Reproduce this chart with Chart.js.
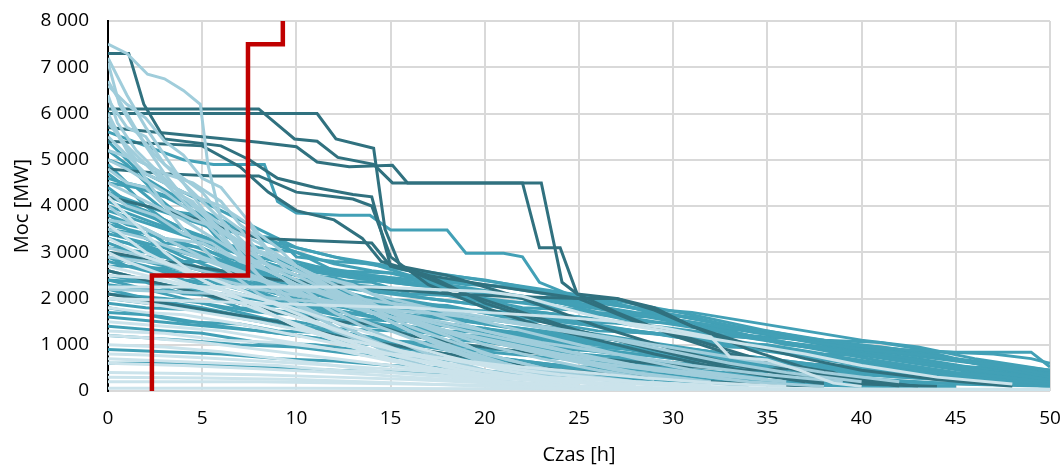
<!DOCTYPE html>
<html>
<head>
<meta charset="utf-8">
<script src="https://cdn.jsdelivr.net/npm/chart.js@4/dist/chart.umd.min.js"></script>
<style>
  html, body { margin: 0; padding: 0; background: #fff; overflow: hidden; }
  canvas { display: block; }
</style>
</head>
<body>
<canvas id="myChart" width="1061" height="465"></canvas>
<script>
// each series: flat list of hour, MW pairs
const yTickLabels = ['0', '1 000', '2 000', '3 000', '4 000', '5 000', '6 000', '7 000', '8 000'];

const darkSeries = [
    [0,7300, 1.1,7300, 1.9,6200, 3,5450, 6,5300, 7.5,5000, 9,4600, 11,4400, 13,4250, 14,4200, 15,2700, 17,2500, 20,2300, 25,2000, 28,1500, 32,1000, 36,500, 40,150],
    [0,6100, 8,6100, 9.9,5450, 11.1,5400, 12.2,5050, 14.1,4900, 15.1,4500, 22,4500, 22.9,3100, 24,3100, 24.9,2100, 27,2000, 29,1800, 31,1400, 34,900, 37,500, 40,250, 43,100],
    [0,6000, 11.1,6000, 12.1,5450, 14.1,5250, 14.7,3500, 15.5,2700, 18,2500, 22,2000, 26,1400, 30,900, 34,500, 38,200],
    [0,5700, 8,5380, 10,5280, 11.1,4950, 12.8,4850, 15.1,4880, 15.9,4500, 23,4500, 24.1,2350, 24.9,2100, 27,1700, 30,1200, 33,800, 36,500, 39,300, 42,100],
    [0,5400, 5,5300, 7,4850, 8.5,4300, 10,3900, 12,3700, 13.5,3300, 14.5,2800, 17,2500, 20,1900, 23,1500, 26,1200, 30,800, 34,400, 38,150],
    [0,4800, 3,4700, 5.6,4650, 8,4650, 10,4300, 13,4150, 14,4000, 15,2900, 17,2300, 20,1800, 23,1400, 26,1100, 29,800, 33,450, 37,200],
    [0,4200, 4,3800, 8,3300, 11,3250, 14,3200, 15,2700, 16,2600, 19,2100, 22,1700, 25,1300, 28,1000, 31,700, 35,450, 39,250, 43,100],
    [0,3000, 3,2800, 6,2600, 9,2400, 12,2300, 15,2200, 18,2100, 21,2050, 25,2000, 27,2000, 29,1750, 31,1400, 34,1000, 37,700, 40,450, 44,250, 48,100],
    [0,2600, 3,2300, 6,2000, 9,1700, 12,1500, 14,1450, 16,1200, 19,1000, 22,850, 26,700, 30,550, 34,450, 37,500, 38.5,400, 40,150, 44,100],
    [0,2100, 3,1900, 6,1700, 9,1500, 12,1200, 15,1000, 18,800, 21,600, 24,450, 27,350, 30,250, 34,150, 38,100]
];

const tealSeries = [
    [0,5000, 2,4700, 4,4300, 6,3900, 8,3500, 10,3100, 13,2800, 16,2600, 20,2400, 24,2100, 28,1800, 32,1500, 36,1150, 40,900, 44,750, 48,500, 50,350],
    [0,4600, 3,4200, 6,3600, 9,3200, 12,2900, 15,2700, 19,2450, 23,2200, 27,1950, 31,1650, 35,1300, 39,1000, 42,900, 44.9,840, 49,840, 50,520],
    [0,4300, 2,4000, 5,3600, 8,3000, 11,2700, 14,2500, 18,2300, 22,2050, 26,1800, 30,1550, 34,1300, 38,1100, 42,900, 46,600, 50,300],
    [0,3900, 3,3500, 6,3100, 9,2700, 12,2500, 16,2300, 20,2100, 24,1900, 28,1650, 32,1350, 36,1050, 40,800, 44,550, 48,350, 50,250],
    [0,3600, 4,3200, 7,2800, 10,2500, 13,2300, 17,2150, 21,1950, 25,1750, 29,1500, 33,1250, 37,950, 41,650, 45,400, 50,200],
    [0,3400, 3,3100, 6,2750, 9,2450, 13,2200, 17,2000, 21,1800, 25,1600, 29,1350, 33,1100, 37,850, 41,600, 45,350, 50,150],
    [0,3200, 2,2900, 5,2600, 8,2300, 12,2050, 16,1850, 20,1700, 24,1500, 28,1300, 32,1050, 36,800, 40,550, 44,350, 48,200, 50,150],
    [0,4000, 2,3700, 4,3400, 6,3000, 8,2600, 10,2300, 13,2000, 16,1750, 20,1550, 24,1350, 28,1100, 32,850, 36,600, 40,400, 45,250, 50,120],
    [0,3000, 3,2700, 6,2400, 9,2150, 12,1900, 15,1700, 19,1500, 23,1300, 27,1100, 31,900, 35,700, 39,500, 43,300, 47,180, 50,100],
    [0,2800, 2,2600, 5,2300, 8,2000, 11,1800, 14,1600, 18,1450, 22,1250, 26,1050, 30,850, 34,650, 38,450, 42,300, 46,200, 50,100],
    [0,4400, 1,4100, 3,3600, 5,3200, 7,2800, 9,2500, 11,2200, 14,1900, 17,1650, 20,1450, 24,1200, 28,950, 32,700, 36,450, 40,250, 44,120],
    [0,3800, 2,3500, 4,3100, 7,2700, 10,2400, 13,2250, 16,2200, 19,2000, 22,1700, 25,1500, 28,1300, 31,1150, 34,1000, 37,850, 40,600, 43,400, 47,250, 50,200],
    [0,2500, 3,2300, 6,2100, 9,1900, 12,1650, 15,1400, 18,1200, 21,1000, 24,800, 27,650, 30,500, 34,350, 38,250, 42,150],
    [0,5400, 1,5000, 2,4600, 4,4100, 6,3700, 8,3300, 10,3000, 12,2750, 14,2600, 17,2450, 20,2300, 23,2150, 26,1950, 29,1700, 32,1500, 35,1250, 38,1050, 41,950, 44,800, 47,500, 50,350],
    [0,2200, 2,2000, 5,1800, 8,1550, 11,1350, 14,1150, 17,950, 20,750, 23,600, 26,450, 29,350, 33,250, 37,150],
    [0,3500, 1,3300, 3,3000, 5,2600, 8,2200, 11,1900, 14,1700, 17,1500, 20,1350, 23,1150, 27,1000, 31,800, 35,600, 39,450, 43,350, 47,250, 50,200],
    [0,4700, 1,4400, 2,4000, 3,3700, 5,3300, 7,3000, 9,2800, 12,2600, 15,2450, 18,2350, 21,2250, 24,2050, 27,1850, 30,1650, 33,1400, 36,1200, 39,1000, 42,850, 45,700, 48,550, 50,450],
    [0,3300, 2,3100, 4,2800, 6,2500, 8,2300, 11,2100, 14,1950, 18,1800, 22,1600, 26,1400, 30,1200, 34,950, 38,700, 42,500, 46,350, 50,250],
    [0,2600, 2,2400, 4,2200, 7,1900, 10,1650, 13,1450, 16,1300, 19,1150, 22,950, 25,800, 28,700, 31,550, 34,450, 37,350, 41,250, 45,150, 50,100],
    [0,1800, 3,1600, 6,1400, 9,1250, 12,1100, 15,950, 18,800, 21,650, 24,500, 27,400, 30,300, 34,200, 38,100],
    [0,4100, 2,3800, 4,3500, 6,3200, 8,2900, 10,2700, 12,2550, 15,2400, 18,2250, 21,2100, 24,1950, 27,1750, 30,1550, 33,1350, 36,1150, 39,950, 42,800, 45,650, 48,500, 50,450],
    [0,5600, 2,5300, 4,5000, 5.6,4900, 8.3,4900, 9,4100, 10,3850, 12.3,3800, 13.9,3800, 15,3480, 18,3480, 19,2980, 21,2980, 22,2900, 22.9,2350, 24.4,2100, 27,1900, 30,1550, 34,1200, 38,900, 42,650, 46,400, 50,250],
    [0,2400, 3,2100, 6,1800, 9,1500, 12,1300, 15,1100, 18,900, 21,700, 24,550, 27,400, 30,280, 34,180, 38,100],
    [0,2000, 4,1800, 8,1500, 12,1200, 16,1000, 20,850, 24,700, 28,550, 32,400, 36,280, 40,180, 45,100],
    [0,1600, 4,1450, 8,1300, 12,1100, 16,900, 20,700, 24,550, 28,400, 32,300, 36,200, 40,120],
    [0,3700, 2,3300, 4,2900, 6,2600, 9,2300, 12,2000, 15,1800, 18,1600, 21,1400, 24,1250, 27,1100, 30,950, 33,800, 36,650, 39,500, 42,350, 46,250, 50,200],
    [0,2900, 3,2600, 6,2300, 9,2000, 12,1750, 15,1550, 18,1400, 21,1200, 24,1000, 27,850, 30,700, 34,550, 38,400, 42,300, 46,220, 50,180],
    [0,4200, 2,3900, 4,3500, 6,3100, 8,2800, 11,2500, 14,2200, 17,2000, 20,1850, 23,1700, 26,1550, 29,1400, 32,1250, 35,1100, 38,950, 41,800, 44,600, 47,400, 50,300],
    [0,5200, 1,4900, 2.5,4300, 4,4100, 5,3600, 7,3400, 9,3300, 10,2900, 12,2800, 14,2750, 16,2500, 19,2300, 22,2250, 25,1900, 28,1700, 31,1600, 34,1300, 38,1000, 42,700, 46,500, 50,300],
    [0,4500, 1.5,4400, 3,3900, 5,3800, 6.5,3300, 8,3100, 10,3000, 12,2600, 15,2550, 17,2350, 20,2100, 23,2000, 26,1700, 29,1600, 32,1400, 36,1000, 40,850, 44,600, 48,300, 50,250],
    [0,3100, 2,3000, 4,2800, 6,2800, 8,2500, 10,2400, 13,2100, 15,1900, 18,1850, 21,1600, 24,1550, 27,1300, 30,1200, 33,950, 36,900, 40,650, 44,400, 48,300, 50,250],
    [0,2700, 2,2700, 4,2400, 7,2300, 9,2000, 12,1900, 14,1600, 17,1500, 20,1300, 23,1250, 26,1000, 29,900, 32,700, 35,650, 38,500, 41,450, 44,300, 47,250, 50,200],
    [0,1400, 3,1300, 5,1250, 8,1050, 11,1000, 14,850, 17,800, 20,650, 23,550, 27,500, 30,400, 34,350, 38,250, 42,200, 46,150, 50,120],
    [0,2300, 2,2200, 5,2100, 7,1800, 10,1700, 13,1500, 15,1400, 18,1250, 21,1100, 24,950, 27,800, 30,750, 33,600, 36,550, 39,400, 42,350, 45,250, 50,200],
    [0,4900, 1,4500, 2,4400, 3.5,3900, 5,3700, 6,3200, 8,3000, 9.5,2800, 11,2600, 13,2450, 16,2300, 19,2200, 22,2000, 25,1950, 28,1800, 31,1700, 34,1500, 37,1300, 40,1100, 43,950, 46,700, 50,450],
    [0,3000, 1,2900, 3,2900, 5,2600, 7,2500, 9,2200, 11,2100, 13,1800, 15,1700, 17,1450, 20,1350, 23,1100, 26,1000, 29,800, 32,700, 35,550, 38,450, 41,350, 44,300, 47,200, 50,150],
    [0,1900, 2,1800, 5,1750, 7,1600, 10,1500, 12,1350, 15,1300, 18,1100, 21,1050, 24,900, 27,850, 30,700, 33,650, 36,500, 39,450, 42,350, 46,300, 50,250],
    [0,3300, 1,3200, 3,2900, 4,2700, 6,2600, 8,2400, 10,2300, 12,2150, 14,2000, 16,1950, 19,1750, 22,1700, 25,1500, 28,1450, 31,1250, 34,1150, 37,950, 40,850, 43,700, 46,500, 50,350],
    [0,2100, 3,2000, 5,1900, 8,1700, 10,1650, 13,1450, 16,1400, 19,1200, 22,1150, 25,950, 28,900, 31,750, 34,700, 37,550, 40,500, 43,350, 47,250, 50,200],
    [0,1200, 4,1100, 7,1000, 10,950, 13,800, 16,700, 19,650, 22,500, 25,450, 28,350, 32,300, 36,200, 40,150, 45,100],
    [0,3800, 1,3600, 2,3500, 3,3200, 5,3100, 7,2700, 9,2600, 11,2400, 14,2350, 16,2100, 19,2050, 22,1800, 25,1750, 28,1500, 31,1450, 34,1200, 37,1100, 40,900, 43,800, 46,600, 50,400],
    [0,2400, 2,2350, 4,2100, 6,2050, 8,1850, 11,1800, 13,1550, 16,1500, 18,1300, 21,1250, 24,1050, 27,1000, 30,850, 33,800, 36,600, 39,550, 42,400, 45,350, 50,250],
    [0,900, 3,850, 6,800, 9,700, 12,650, 15,550, 18,500, 21,400, 24,350, 27,300, 31,200, 35,150, 40,100],
    [0,1700, 2,1650, 4,1500, 7,1450, 9,1300, 12,1250, 14,1100, 17,1050, 20,900, 23,850, 26,700, 29,650, 32,550, 35,500, 38,400, 41,350, 44,300, 47,200, 50,180],
    [0,2900, 1,2700, 3,2650, 5,2400, 7,2350, 9,2100, 12,2050, 14,1800, 17,1750, 20,1550, 23,1500, 26,1300, 29,1250, 32,1050, 35,1000, 38,800, 41,750, 44,550, 47,500, 50,350],
    [0,600, 3,600, 6,550, 9,500, 12,450, 16,400, 20,350, 24,300, 28,250, 32,200, 36,150, 40,100, 45,80],
    [0,3500, 1.5,3400, 3,3100, 4.5,3000, 6,2800, 8,2700, 10,2500, 12,2450, 14,2200, 17,2150, 20,1950, 23,1900, 26,1650, 29,1600, 32,1350, 35,1300, 38,1100, 41,1050, 44,850, 47,800, 49,700, 50,600]
];

const lightSeries = [
    [0,7500, 1,7300, 2.1,6850, 3,6750, 4,6500, 4.9,6200, 5.3,4900, 6,3700, 7,3000, 8,2500, 10,1900, 12,1400, 14,1000, 16,650, 18,400, 21,200, 25,80],
    [0,7200, 1,6400, 2,5700, 3,5100, 4,4500, 5,3950, 6,3400, 7,2900, 8,2500, 9,2100, 11,1600, 13,1200, 15,800, 17,500, 20,250, 24,100],
    [0,6700, 1,6000, 2,5300, 3,4700, 4,4200, 6,3600, 8,3200, 10,2700, 12,2200, 14,1700, 16,1300, 18,900, 20,600, 23,300, 26,150],
    [0,6400, 0.5,5800, 1.5,5200, 3,4600, 4.5,4000, 6,3500, 7.5,3000, 9,2600, 11,2200, 13,1900, 15,1500, 17,1100, 19,800, 22,500, 25,300, 28,150],
    [0,5800, 1,5300, 2,4900, 3,4500, 4,4100, 5,3700, 6,3300, 7,2900, 8,2500, 9,2200, 10,1900, 12,1500, 14,1100, 16,800, 18,500, 21,250],
    [0,5500, 1,5100, 2,4700, 4,4300, 6,4000, 7.5,3600, 8.5,3000, 9.5,2600, 11,2300, 13,2000, 15,1700, 18,1300, 21,1000, 24,700, 27,450, 30,250, 34,100],
    [0,5000, 1,4800, 3,4300, 5,3700, 7,3200, 9,2800, 11,2400, 13,2000, 15,1700, 17,1400, 20,1000, 23,700, 26,450, 29,250],
    [0,4500, 2,4100, 4,3700, 6,3200, 8,2700, 10,2300, 12,2000, 14,1700, 16,1500, 19,1200, 22,900, 25,650, 28,400, 32,200],
    [0,4000, 1,3700, 3,3300, 5,2900, 7,2600, 9,2300, 11,2000, 14,1700, 17,1400, 20,1100, 23,850, 26,600, 30,400, 34,200, 38,100],
    [0,3500, 2,3300, 4,3000, 6,2700, 8,2400, 10,2100, 12,1900, 15,1600, 18,1300, 21,1050, 24,800, 28,550, 32,350, 36,200],
    [0,3100, 2,2900, 4,2600, 6,2400, 8,2200, 11,2000, 14,1800, 17,1550, 20,1300, 23,1050, 27,800, 31,550, 35,350, 39,200],
    [0,6000, 1,5200, 2,4600, 3,4000, 4,3500, 5,3100, 6,2700, 7,2400, 8,2100, 10,1700, 12,1300, 14,1000, 17,650, 20,400, 24,200],
    [0,7100, 0.6,6200, 1.5,5600, 2.5,5100, 3.5,4700, 4.5,4300, 5.5,3900, 6.5,3500, 7.5,3100, 8.5,2700, 10,2200, 12,1700, 14,1300, 17,800, 20,450, 24,200],
    [0,6600, 1,6200, 2,5900, 3,5400, 4,5100, 5,4600, 6,4400, 7,3900, 8,3400, 9,3100, 10,2700, 12,2300, 14,1900, 16,1500, 18,1200, 20,800, 23,500, 26,250],
    [0,5200, 1.5,5000, 3,4700, 4.5,4500, 6,4100, 7,3600, 8,3300, 9,2800, 10.5,2500, 12,2100, 14,1800, 16,1400, 18,1100, 21,700, 24,400, 28,200],
    [0,4800, 1,4500, 2,4400, 3,4000, 4.5,3700, 6,3500, 7.5,3100, 9,2900, 11,2500, 13,2300, 15,1900, 17,1700, 20,1300, 23,1000, 26,700, 29,450, 33,250],
    [0,4300, 1,4000, 2.5,3800, 4,3400, 5.5,3200, 7,2800, 8.5,2600, 10,2300, 12,2100, 14,1800, 16,1600, 19,1300, 22,1050, 25,800, 28,550, 31,350],
    [0,3700, 1.5,3600, 3,3300, 5,3200, 6.5,2900, 8,2800, 10,2500, 12,2400, 14,2100, 16,1900, 19,1600, 22,1300, 25,1000, 28,700, 31,450, 35,250],
    [0,2900, 2,2800, 4,2700, 6,2500, 8,2400, 10,2200, 12,2100, 14,1950, 17,1800, 20,1600, 23,1400, 26,1200, 29,1000, 32,800, 35,600, 38,400, 42,200],
    [0,5900, 0.7,5400, 1.5,5000, 2.5,4800, 3.5,4300, 4.5,4100, 5.5,3600, 6.5,3300, 7.5,2900, 8.5,2600, 10,2300, 11.5,1900, 13,1600, 15,1300, 17,1000, 20,650, 23,350, 26,150],
    [0,6300, 1,5700, 2,5500, 3,4900, 4,4600, 5,4300, 6,3800, 7,3500, 8,3000, 9.5,2700, 11,2400, 12.5,2000, 14,1700, 16,1300, 18,1000, 21,600, 24,300],
    [0,2200, 3,2150, 6,2100, 9,2000, 12,1900, 15,1750, 18,1650, 21,1500, 24,1300, 27,1100, 30,850, 33,600, 36,400, 40,200]
];

const paleSeries = [
    [0,2250, 14,2250, 17,2200, 20,2150, 22,2050, 25,1700, 28,1400, 31,1200, 34,1000, 37,800, 40,550, 44,300, 48,150],
    [0,2000, 4,1950, 8,1900, 12,1850, 16,1800, 20,1700, 24,1600, 27,1500, 29.3,1380, 32,1170, 33,740, 35,670, 36.7,450, 38.5,170, 40,100],
    [0,2700, 2,2500, 4,2300, 7,2000, 10,1600, 13,1200, 16,800, 19,500, 22,300, 26,150],
    [0,1500, 3,1400, 6,1300, 9,1100, 12,900, 15,650, 18,450, 21,300, 25,150],
    [0,1000, 3,950, 6,850, 9,700, 12,550, 15,400, 18,300, 21,200, 25,100],
    [0,600, 4,550, 8,480, 12,400, 16,300, 20,200, 24,120, 28,60],
    [0,300, 5,280, 10,250, 15,180, 20,100, 25,50, 30,20],
    [0,3000, 1,2800, 3,2500, 5,2200, 7,1900, 9,1600, 11,1300, 14,900, 17,600, 20,350, 24,150],
    [0,1200, 2,1150, 5,1050, 8,900, 11,750, 14,600, 17,450, 20,300, 24,200, 28,100],
    [0,3600, 1,3300, 2,3000, 4,2600, 6,2200, 8,1800, 10,1400, 12,1100, 15,700, 18,400, 21,200, 25,100],
    [0,2000, 2,1900, 5,1700, 8,1500, 11,1250, 14,1000, 17,750, 20,550, 24,350, 28,200, 32,100],
    [0,800, 2,780, 5,720, 8,650, 11,580, 14,500, 17,420, 20,350, 24,280, 28,200, 32,120],
    [0,4200, 1,3800, 2,3400, 3,3000, 4,2700, 5,2400, 6,2200, 8,1800, 10,1400, 12,1100, 14,800, 16,550, 19,300, 22,150],
    [0,2500, 2,2450, 4,2300, 6,2200, 9,1900, 12,1500, 15,1100, 18,750, 21,450, 24,250, 28,100],
    [0,1800, 2,1700, 4,1650, 7,1450, 10,1200, 13,950, 16,700, 19,500, 22,300, 26,150],
    [0,400, 4,380, 8,350, 12,300, 16,250, 20,180, 25,100, 30,50],
    [0,1300, 3,1250, 6,1100, 9,1050, 12,900, 15,800, 18,700, 21,550, 24,450, 28,300, 32,180, 36,100],
    [0,3300, 1,3100, 2,2900, 3.5,2700, 5,2500, 7,2200, 9,1850, 11,1500, 13,1200, 15,900, 18,600, 21,350, 25,150],
    [0,700, 3,650, 6,600, 9,550, 12,450, 15,400, 18,330, 22,250, 26,180, 30,120, 35,60],
    [0,200, 8,200, 16,150, 24,100, 32,60, 40,40, 50,30],
    [0,60, 10,60, 20,50, 30,40, 40,40, 50,40]
];

const limitLine = [2.33,0, 2.33,2500, 7.43,2500, 7.43,7500, 9.28,7500, 9.28,8100];

function toPoints(flat) {
    const pts = [];
    for (let i = 0; i < flat.length; i += 2) pts.push({ x: flat[i], y: flat[i + 1] });
    return pts;
}

function group(list, color, order) {
    return list.map(s => ({
        data: toPoints(s),
        borderColor: color,
        borderWidth: 3,
        pointRadius: 0,
        tension: 0,
        order: order
    }));
}

const datasets = [].concat(
    [{ data: toPoints(limitLine), borderColor: '#c00000', borderWidth: 4.5, pointRadius: 0, order: 0 }],
    group(paleSeries, '#cbe3eb', 1),
    group(lightSeries, '#a0cddb', 2),
    group(darkSeries, '#30717f', 3),
    group(tealSeries, '#42a0b6', 4)
);

const font = { family: 'Open Sans', size: 19 };
const titleFont = { family: 'Open Sans', size: 20, lineHeight: 1.2 };

new Chart(document.getElementById('myChart'), {
    type: 'line',
    data: { datasets: datasets },
    options: {
        responsive: false,
        animation: false,
        layout: { padding: { top: 21, right: 11, left: 0, bottom: 0 } },
        plugins: { legend: { display: false }, tooltip: { enabled: false } },
        scales: {
            x: {
                type: 'linear',
                min: 0,
                max: 50,
                ticks: { stepSize: 5, color: '#000', font: font, padding: 16, maxRotation: 0 },
                grid: { color: '#d9d9d9', lineWidth: 2, drawTicks: false },
                border: { display: false },
                title: { display: true, text: 'Czas [h]', color: '#000', font: titleFont, padding: { top: 0, bottom: -2 } },
                afterFit: s => { s.height = 74; s.paddingLeft = 0; s.paddingRight = 0; }
            },
            y: {
                min: 0,
                max: 8000,
                ticks: {
                    stepSize: 1000,
                    color: '#000',
                    font: font,
                    padding: 19,
                    callback: (v, i) => yTickLabels[i]
                },
                grid: { color: '#d9d9d9', lineWidth: 2, drawTicks: false },
                border: { display: true, color: '#000', width: 2 },
                title: { display: true, text: 'Moc [MW]', color: '#000', font: titleFont, padding: { top: 10, bottom: 0 } },
                afterFit: s => { s.width = 108; s.paddingTop = 0; s.paddingBottom = 0; }
            }
        }
    }
});
</script>
</body>
</html>
